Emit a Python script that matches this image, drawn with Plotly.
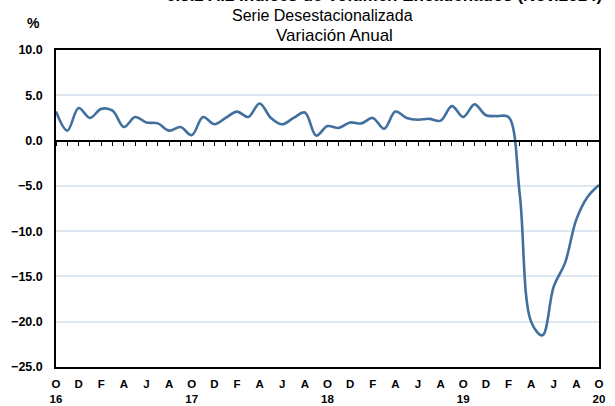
import plotly.graph_objects as go

# Monthly data, Oct 2016 .. Oct 2020
years = ["16", "17", "18", "19", "20"]
values = [3.2, 1.1, 3.6, 2.5, 3.5, 3.3, 1.5, 2.6, 2.0, 1.9, 1.1, 1.5,
          0.6, 2.6, 1.8, 2.5, 3.2, 2.6, 4.1, 2.5, 1.8, 2.5, 3.1, 0.55,
          1.6, 1.4, 2.0, 1.9, 2.5, 1.3, 3.2, 2.5, 2.3, 2.4, 2.2, 3.8,
          2.6, 4.0, 2.8, 2.7, 2.6, -6.0, -20.0, -21.5, -16.1, -13.5, -8.7, -6.2,
          -4.9]
tick_month_labels = ["O", "D", "F", "A", "J", "A"]
y_ticks = [10, 5, 0, -5, -10, -15, -20, -25]

x = list(range(len(values)))
tickvals = x[::2]
ticktext = []
for k, v in enumerate(tickvals):
    lab = "<b>" + tick_month_labels[k % 6] + "</b>"
    if k % 6 == 0:
        lab = lab + "<br><b>" + years[k // 6] + "</b>"
    ticktext.append(lab)

FONT = "Liberation Sans"
L, R, T, B = 56, 16, 50, 39
W, H = 615, 406
PW, PH = W - L - R, H - T - B


def px(xp):
    return (xp - L) / PW


def py(yp):
    return 1 + (T - yp) / PH


fig = go.Figure()
fig.add_trace(go.Scatter(x=x, y=values, mode="lines",
                         line=dict(color="#41709e", width=2.6, shape="spline", smoothing=1.0),
                         hoverinfo="skip", showlegend=False, cliponaxis=True))
fig.add_trace(go.Scatter(x=x, y=[None] * len(x), xaxis="x2", mode="lines",
                         showlegend=False, hoverinfo="skip"))

ymin, ymax = -25, 10
fig.update_layout(
    width=W, height=H,
    margin=dict(l=L, r=R, t=T, b=B, autoexpand=False),
    paper_bgcolor="white", plot_bgcolor="white",
    font=dict(family=FONT, color="black"),
    xaxis=dict(range=[0, len(values) - 1], tickvals=tickvals, ticktext=ticktext,
               automargin=False,
               showgrid=False, zeroline=False, showline=True, linecolor="black",
               linewidth=1.5, mirror=True, ticks="", ticklabelstandoff=5,
               tickfont=dict(size=11.5, family=FONT)),
    xaxis2=dict(range=[0, len(values) - 1], overlaying="x", anchor="free",
                automargin=False,
                position=(0 - ymin) / (ymax - ymin), side="bottom", dtick=1, tick0=0,
                showticklabels=False, showgrid=False, zeroline=False,
                showline=True, linecolor="black", linewidth=1.5,
                ticks="outside", ticklen=5, tickwidth=1, tickcolor="black"),
    yaxis=dict(range=[ymin, ymax], tickvals=y_ticks, tickformat=".1f",
               automargin=False,
               showgrid=True, gridcolor="#dfe7f0", gridwidth=1.5,
               zeroline=False, showline=True, linecolor="black", linewidth=1.5,
               mirror=True, ticks="", ticklabelstandoff=9,
               tickfont=dict(size=12.5, weight="bold", family=FONT)),
)
fig.add_annotation(text="<b>6.3.2 A.2 Índices de Volumen Encadenados (Nov.2014)</b>",
                   xref="paper", yref="paper", x=px(604), y=py(-4), xanchor="right",
                   yanchor="middle", showarrow=False, font=dict(size=17, family=FONT))
fig.add_annotation(text="Serie Desestacionalizada",
                   xref="paper", yref="paper", x=px(322), y=py(15), yanchor="middle",
                   showarrow=False, font=dict(size=16, family=FONT))
fig.add_annotation(text="Variación Anual",
                   xref="paper", yref="paper", x=px(334), y=py(35), yanchor="middle",
                   showarrow=False, font=dict(size=17, family=FONT))
fig.add_annotation(text="<b>%</b>", xref="paper", yref="paper", x=px(33), y=py(23),
                   xanchor="center", yanchor="middle", showarrow=False,
                   font=dict(size=14, family=FONT))
fig.write_html("out.html", config={"displayModeBar": False},
               post_script="document.body.style.margin='0';document.body.style.overflow='hidden';")
